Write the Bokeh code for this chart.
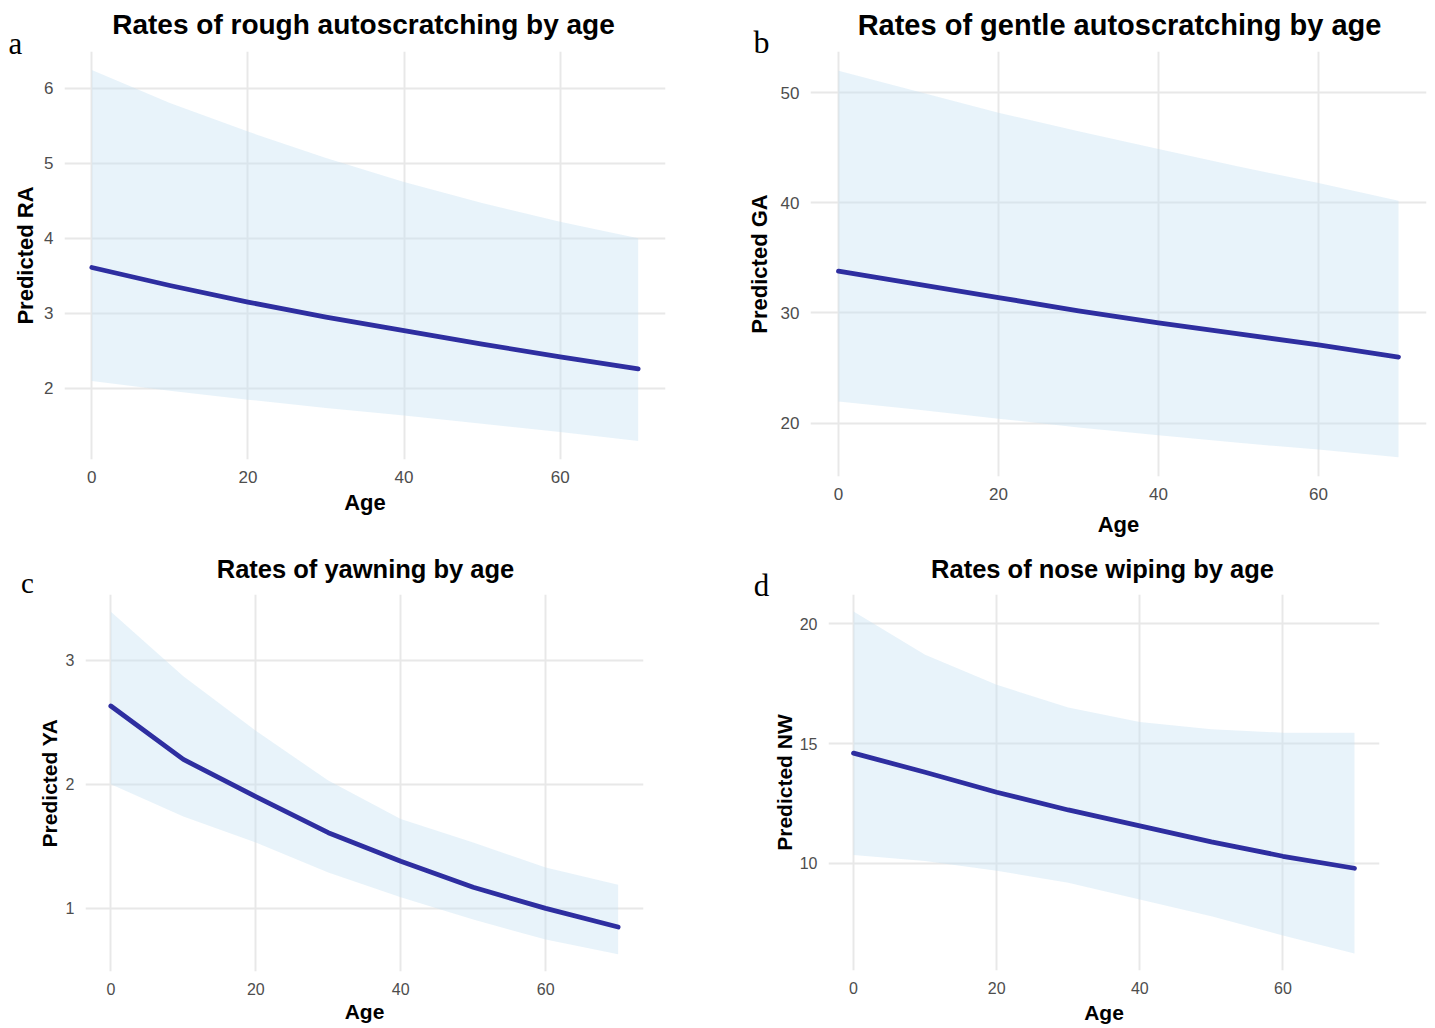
from bokeh.plotting import figure
from bokeh.models import Label, FixedTicker, Range1d
from bokeh.layouts import column, row
from bokeh.embed import file_html
from bokeh.resources import INLINE

# ---------------- data ----------------
age = [0, 10, 20, 30, 40, 50, 60, 70]

ra_fit = [3.61, 3.37, 3.15, 2.95, 2.77, 2.59, 2.42, 2.26]
ra_lo = [2.10, 1.97, 1.85, 1.74, 1.64, 1.53, 1.42, 1.30]
ra_hi = [6.24, 5.80, 5.42, 5.07, 4.75, 4.47, 4.22, 4.00]

ga_fit = [33.8, 32.6, 31.4, 30.2, 29.1, 28.1, 27.1, 26.0]
ga_lo = [21.95, 21.2, 20.4, 19.6, 18.9, 18.2, 17.6, 16.9]
ga_hi = [52.0, 50.1, 48.2, 46.5, 44.9, 43.3, 41.8, 40.2]

ya_fit = [2.63, 2.20, 1.90, 1.61, 1.38, 1.17, 1.00, 0.85]
ya_lo = [2.00, 1.74, 1.53, 1.29, 1.09, 0.91, 0.75, 0.63]
ya_hi = [3.39, 2.87, 2.43, 2.03, 1.72, 1.53, 1.33, 1.19]

nw_fit = [14.6, 13.8, 12.97, 12.23, 11.57, 10.9, 10.3, 9.8]
nw_lo = [10.35, 10.1, 9.7, 9.2, 8.5, 7.8, 7.0, 6.25]
nw_hi = [20.5, 18.7, 17.45, 16.5, 15.9, 15.6, 15.45, 15.45]

x_ticks = [0, 20, 40, 60]
ra_ticks = [2, 3, 4, 5, 6]
ga_ticks = [20, 30, 40, 50]
ya_ticks = [1, 2, 3]
nw_ticks = [10, 15, 20]

titles = ["Rates of rough autoscratching by age",
          "Rates of gentle autoscratching by age",
          "Rates of yawning by age",
          "Rates of nose wiping by age"]
letters = ["a", "b", "c", "d"]
ylabels = ["Predicted RA", "Predicted GA", "Predicted YA", "Predicted NW"]
xlabel = "Age"

SANS = "Liberation Sans"
SERIF = "Liberation Serif"
LINE_COLOR = "#2e2ea0"
RIBBON = "#c5e0f2"
GRID = "#e8e8e8"


def expand(vals_lo, vals_hi, m=0.05):
    lo, hi = min(vals_lo), max(vals_hi)
    pad = (hi - lo) * m
    return lo - pad, hi + pad


def panel(fit, lo, hi, yticks, geo, cfg):
    W, H, L, FW, T, FH = geo
    p = figure(frame_width=FW, frame_height=FH,
               min_border_left=L, min_border_right=W - L - FW,
               min_border_top=T, min_border_bottom=H - T - FH,
               output_backend="svg", toolbar_location=None,
               background_fill_color="white", border_fill_color="white")
    p.outline_line_color = None
    p.title.visible = False
    x0, x1 = expand(age, age)
    y0, y1 = expand(lo, hi)
    p.x_range = Range1d(x0, x1)
    p.y_range = Range1d(y0, y1)

    p.varea(x=age, y1=lo, y2=hi, fill_color=RIBBON, fill_alpha=0.4)
    p.line(age, fit, line_color=LINE_COLOR, line_width=4.8,
           line_cap="round", line_join="round")

    p.xaxis.ticker = FixedTicker(ticks=x_ticks)
    p.yaxis.ticker = FixedTicker(ticks=yticks)
    for ax in (p.xaxis[0], p.yaxis[0]):
        ax.axis_line_color = None
        ax.major_tick_line_color = None
        ax.minor_tick_line_color = None
        ax.major_tick_out = 0
        ax.major_tick_in = 0
        ax.major_label_text_font = SANS
        ax.major_label_text_font_size = cfg["tick"]
        ax.major_label_text_color = "#4d4d4d"
        ax.major_label_standoff = 11
        ax.axis_label_text_font = SANS
        ax.axis_label_text_font_style = "bold"
        ax.axis_label_text_font_size = cfg["lab"]
        ax.axis_label_text_color = "black"
    p.xaxis.axis_label = xlabel
    p.xaxis.axis_label_standoff = cfg["xls"]
    p.yaxis.axis_label = cfg["ylab"]
    p.yaxis.axis_label_standoff = cfg["yls"]

    p.xgrid.grid_line_color = GRID
    p.ygrid.grid_line_color = GRID
    p.xgrid.grid_line_width = 2
    p.ygrid.grid_line_width = 2
    p.xgrid.ticker = FixedTicker(ticks=x_ticks)
    p.ygrid.ticker = FixedTicker(ticks=yticks)

    # title as a canvas-positioned label in the top border
    tx, ty, ts = cfg["title"]
    p.add_layout(Label(x=tx, y=ty, x_units="canvas", y_units="canvas",
                       text=cfg["title_text"], text_font=SANS, text_font_size=ts,
                       text_font_style="bold", text_color="black",
                       text_align="center", text_baseline="middle"), "above")

    lx, ly, ls, side = cfg["letter"]
    p.add_layout(Label(x=lx, y=ly, x_units="canvas", y_units="canvas",
                       text=cfg["letter_text"], text_font=SERIF, text_font_size=ls,
                       text_color="black", text_align="center",
                       text_baseline="alphabetic"), side)
    return p


pa = panel(ra_fit, ra_lo, ra_hi, ra_ticks, (720, 540, 64, 601, 51, 408),
           dict(tick="17px", lab="22px", xls=4, yls=3, ylab=ylabels[0],
                title=(363, 23.5, "28px"), title_text=titles[0],
                letter=(15, 43, "31px", "right"), letter_text=letters[0]))
pb = panel(ga_fit, ga_lo, ga_hi, ga_ticks, (715, 540, 90, 616, 51, 425),
           dict(tick="17px", lab="22px", xls=9, yls=6, ylab=ylabels[1],
                title=(399, 24.5, "29px"), title_text=titles[1],
                letter=(41, 41, "32px", "left"), letter_text=letters[1]))
pc = panel(ya_fit, ya_lo, ya_hi, ya_ticks, (720, 488, 85, 558, 54, 377),
           dict(tick="16px", lab="21px", xls=2, yls=2, ylab=ylabels[2],
                title=(365, 28, "25.5px"), title_text=titles[2],
                letter=(27, 42, "29px", "left"), letter_text=letters[2]))
pd_ = panel(nw_fit, nw_lo, nw_hi, nw_ticks, (715, 488, 108, 551, 54, 376),
            dict(tick="16px", lab="21px", xls=4, yls=1, ylab=ylabels[3],
                 title=(382, 28.5, "25.5px"), title_text=titles[3],
                 letter=(41, 45, "31px", "left"), letter_text=letters[3]))

layout = column(row(pa, pb, spacing=0), row(pc, pd_, spacing=0), spacing=0)

open("out.html", "w").write(file_html(layout, INLINE))
